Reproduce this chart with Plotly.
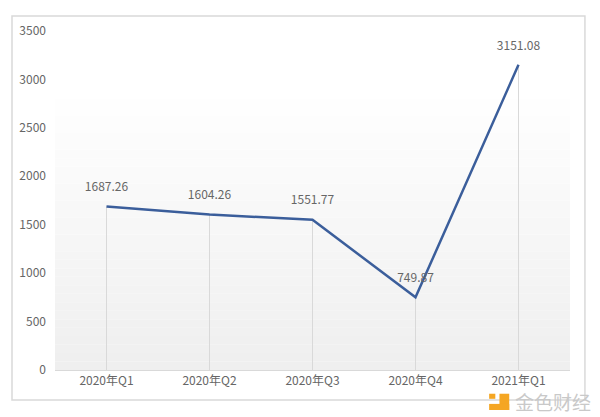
import plotly.graph_objects as go

quarters = ['2020年Q1', '2020年Q2', '2020年Q3', '2020年Q4', '2021年Q1']
values = [1687.26, 1604.26, 1551.77, 749.87, 3151.08]
y_ticks = [0, 500, 1000, 1500, 2000, 2500, 3000, 3500]

font_cn = "Noto Sans CJK SC, Noto Sans, sans-serif"
grey_txt = '#666666'

# drop lines from each point down to the axis
drop_x, drop_y = [], []
for q, v in zip(quarters, values):
    drop_x += [q, q, None]
    drop_y += [0, v, None]

drops = go.Scatter(x=drop_x, y=drop_y, mode='lines', line={'color': '#d9d9d9', 'width': 1},
                   hoverinfo='skip', showlegend=False)
# invisible markers push the value labels up off the line
line = go.Scatter(x=quarters, y=values, mode='lines+markers+text', text=[f"{v:.2f}" for v in values],
                  textposition='top center', textfont={'size': 12, 'color': grey_txt, 'family': font_cn},
                  marker={'size': 18, 'color': 'rgba(0,0,0,0)'},
                  line={'color': '#3b5e9b', 'width': 2.5}, showlegend=False)

fig = go.Figure(data=[drops, line])

# plot background: white at top fading to light grey at the bottom
shapes = []
n = 40
for i in range(n):
    t = min(1.0, i / (n - 1) / 0.8)
    c = int(255 - 16 * (1 - t))
    shapes.append(dict(type='rect', xref='paper', yref='paper', x0=0, x1=1,
                       y0=i / n, y1=(i + 1) / n, line={'width': 0},
                       fillcolor=f'rgb({c},{c},{c})', layer='below'))
# outer frame
shapes.append(dict(type='rect', xref='paper', yref='paper', x0=-0.0835, x1=1.029,
                   y0=-0.0885, y1=1.044, line={'color': '#d9d9d9', 'width': 1.5}, layer='below'))
# watermark icon
shapes.append(dict(type='rect', xref='paper', yref='paper', x0=0.863, x1=0.882,
                   y0=-0.118, y1=-0.07, line={'width': 0}, fillcolor='#f5a623'))
shapes.append(dict(type='rect', xref='paper', yref='paper', x0=0.843, x1=0.882,
                   y0=-0.118, y1=-0.1, line={'width': 0}, fillcolor='#f5a623'))
shapes.append(dict(type='rect', xref='paper', yref='paper', x0=0.843, x1=0.855,
                   y0=-0.085, y1=-0.07, line={'width': 0}, fillcolor='#f5a623'))

fig.update_layout(
    width=600, height=417,
    margin=dict(l=55, r=30, t=31, b=47),
    paper_bgcolor='white', plot_bgcolor='rgba(0,0,0,0)',
    shapes=shapes,
    font={'family': font_cn, 'color': grey_txt, 'size': 12},
    annotations=[dict(text='金色财经', xref='paper', yref='paper', x=0.89, y=-0.094,
                      xanchor='left', yanchor='middle', showarrow=False,
                      font={'size': 19, 'color': '#c9c9c9', 'family': font_cn})],
)
fig.update_xaxes(type='category', showgrid=False, showline=True, linecolor='#d9d9d9',
                 linewidth=1, ticks='', tickfont={'size': 12, 'color': grey_txt},
                 range=[-0.5, 4.5], fixedrange=True)
fig.update_yaxes(range=[0, 3500], tickvals=y_ticks, showgrid=False, zeroline=False,
                 showline=False, ticks='', ticklabelstandoff=8,
                 tickfont={'size': 12, 'color': grey_txt}, fixedrange=True)

fig.write_html("out.html", config={'displayModeBar': False},
               post_script="document.body.style.margin='0';")
